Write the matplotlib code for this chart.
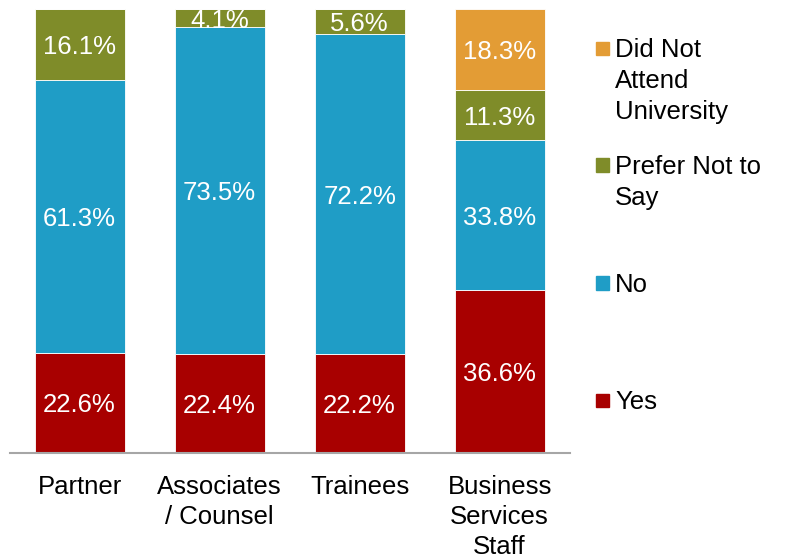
import matplotlib
matplotlib.use("Agg")
import matplotlib.pyplot as plt
from matplotlib.patches import Rectangle
import numpy as np

plt.rcParams['font.family'] = ['Liberation Sans', 'DejaVu Sans']

categories = ["Partner", "Associates\n/ Counsel", "Trainees", "Business\nServices\nStaff"]
series_names = ["Yes", "No", "Prefer Not to Say", "Did Not Attend University"]
legend_labels = ["Yes", "No", "Prefer Not to\nSay", "Did Not\nAttend\nUniversity"]
yes = [22.6, 22.4, 22.2, 36.6]
no = [61.3, 73.5, 72.2, 33.8]
prefer_not = [16.1, 4.1, 5.6, 11.3]
did_not_attend = [0.0, 0.0, 0.0, 18.3]
colors = ["#A80000", "#1F9DC6", "#7F8C29", "#E39C35"]

W, H = 785, 558
fig = plt.figure(figsize=(W / 100, H / 100), dpi=100)
ax = fig.add_axes([9.6 / W, 1 - 453 / H, 560 / W, 444 / H])

x = np.arange(len(categories))
bottom = np.zeros(len(categories))
for vals, col in zip([yes, no, prefer_not, did_not_attend], colors):
    vals = np.array(vals)
    ax.bar(x, vals, bottom=bottom, width=0.643, color=col,
           edgecolor="white", linewidth=0.6)
    for xi, v, b in zip(x, vals, bottom):
        if v > 0:
            ax.text(xi, b + v / 2, f"{v:.1f}%", ha="center", va="center_baseline",
                    color="white", fontsize=18.5, clip_on=False)
    bottom += vals

ax.set_xlim(-0.5, 3.5)
ax.set_ylim(0, 100)
ax.set_yticks([])
ax.set_xticks(x)
ax.set_xticklabels(categories, fontsize=18.5, linespacing=1.3)
ax.tick_params(axis="x", length=0, pad=16)
for s in ["left", "right", "top"]:
    ax.spines[s].set_visible(False)
ax.spines["bottom"].set_color("#A6A6A6")
ax.spines["bottom"].set_linewidth(1.5)

# legend (manual, Excel-style: marker aligned with first line)
marker_y = [400, 283, 165, 48]
for lab, col, my in zip(legend_labels, colors, marker_y):
    fig.patches.append(Rectangle((596 / W, 1 - (my + 6.5) / H), 13 / W, 13 / H,
                                 transform=fig.transFigure, color=col))
    fig.text(615 / W, 1 - (my - 10) / H, lab, ha="left", va="top",
             fontsize=18.5, color="black", linespacing=1.36)

fig.savefig("out.png", dpi=100)
